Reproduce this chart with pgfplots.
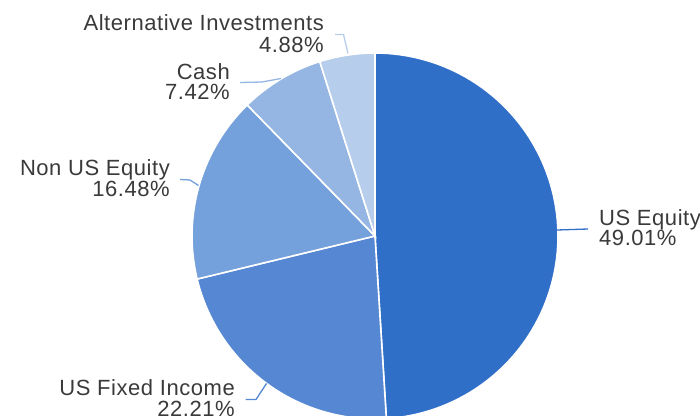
\documentclass[border=0pt]{standalone}
\usepackage{pgfplots}
\pgfplotsset{compat=1.18}
\usepackage{fontspec}
\setmainfont{Liberation Sans}
\newfontfamily\lblfont[LetterSpace=2.5]{Liberation Sans}
\definecolor{cA}{HTML}{2F6FC8}
\definecolor{cB}{HTML}{5587D2}
\definecolor{cC}{HTML}{74A0DB}
\definecolor{cD}{HTML}{95B5E2}
\definecolor{cE}{HTML}{B7CDEC}
\definecolor{txt}{HTML}{3A3A3A}
\tikzset{lbl/.style={font=\lblfont\fontsize{22pt}{21pt}\selectfont, text=txt, inner sep=0pt}}
% shares in percent
\def\vA{49.01}\def\vB{22.21}\def\vC{16.48}\def\vD{7.42}\def\vE{4.88}
\pgfmathsetmacro{\aA}{90}
\pgfmathsetmacro{\aB}{\aA-3.6*\vA}
\pgfmathsetmacro{\aC}{\aB-3.6*\vB}
\pgfmathsetmacro{\aD}{\aC-3.6*\vC}
\pgfmathsetmacro{\aE}{\aD-3.6*\vD}
\pgfmathsetmacro{\aF}{\aE-3.6*\vE}
\begin{document}
\begin{tikzpicture}
\useasboundingbox (0,0) rectangle (700pt,415pt);
\clip (0,0) rectangle (700pt,415pt);
\begin{axis}[
  at={(0,0)}, anchor=south west,
  width=700pt, height=415pt, scale only axis,
  xmin=0, xmax=700, ymin=0, ymax=415,
  enlargelimits=false, hide axis, clip=false,
]
\addplot[fill=cA, draw=white, line width=1.6pt, domain=\aB:\aA, samples=90, variable=\t] ({375+183*cos(\t)},{179+183*sin(\t)}) -- (axis cs:375,179) -- cycle;
\addplot[fill=cB, draw=white, line width=1.6pt, domain=\aC:\aB, samples=60, variable=\t] ({375+183*cos(\t)},{179+183*sin(\t)}) -- (axis cs:375,179) -- cycle;
\addplot[fill=cC, draw=white, line width=1.6pt, domain=\aD:\aC, samples=50, variable=\t] ({375+183*cos(\t)},{179+183*sin(\t)}) -- (axis cs:375,179) -- cycle;
\addplot[fill=cD, draw=white, line width=1.6pt, domain=\aE:\aD, samples=30, variable=\t] ({375+183*cos(\t)},{179+183*sin(\t)}) -- (axis cs:375,179) -- cycle;
\addplot[fill=cE, draw=white, line width=1.6pt, domain=\aF:\aE, samples=20, variable=\t] ({375+183*cos(\t)},{179+183*sin(\t)}) -- (axis cs:375,179) -- cycle;
% leader lines
\addplot[cA, line width=1.3pt] coordinates {(557,185) (588,186)};
\addplot[cB, line width=1.3pt] coordinates {(266.5,31.5) (256,15.5) (245.5,15.5)};
\addplot[cC, line width=1.3pt] coordinates {(198.5,229.5) (190,235) (180,235.5)};
\addplot[cD, line width=1.3pt] coordinates {(281,336.5) (262,333) (240,332.5)};
\addplot[cE, line width=1.3pt] coordinates {(348,361.5) (343.5,380.5) (335,380.5)};
% labels
\node[lbl, anchor=base west] at (axis cs:599,190) {US Equity};
\node[lbl, anchor=base west] at (axis cs:599,169) {49.01\%};
\node[lbl, anchor=base east] at (axis cs:235,20) {US Fixed Income};
\node[lbl, anchor=base east] at (axis cs:235,-1) {22.21\%};
\node[lbl, anchor=base east] at (axis cs:170,239.5) {Non US Equity};
\node[lbl, anchor=base east] at (axis cs:170,218) {16.48\%};
\node[lbl, anchor=base east] at (axis cs:230,335.7) {Cash};
\node[lbl, anchor=base east] at (axis cs:230,315) {7.42\%};
\node[lbl, anchor=base east] at (axis cs:324,384) {Alternative Investments};
\node[lbl, anchor=base east] at (axis cs:324,362.7) {4.88\%};
\end{axis}
\end{tikzpicture}
\end{document}
